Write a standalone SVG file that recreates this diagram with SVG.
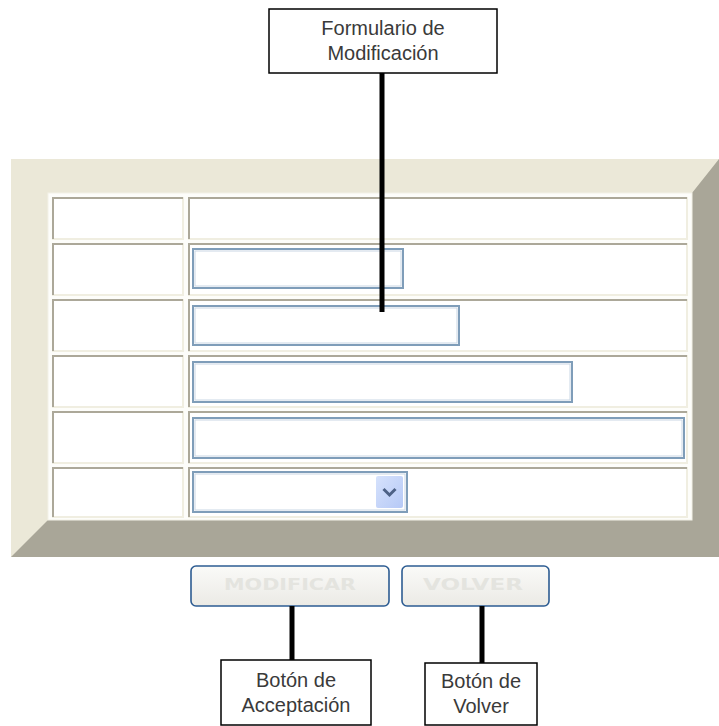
<svg xmlns="http://www.w3.org/2000/svg" width="719" height="726" viewBox="0 0 719 726">
<style>
.lbl{fill:#ffffff;stroke:#000000;stroke-width:1.5}
.txt{font-family:"Liberation Sans",Arial,sans-serif;font-size:20px;fill:#3a3a3a;text-anchor:middle}
.cell{fill:#ffffff;stroke:#f0eee1;stroke-width:2}
.cellsh{fill:none;stroke:#aca899;stroke-width:2}
.inp{fill:#ffffff;stroke:#7f9db9;stroke-width:2}
.inpin{fill:none;stroke:#c9d6e4;stroke-width:1}
.btn{stroke:#2d5c92;stroke-width:1.6;fill:url(#bg)}
.btxt{font-family:"DejaVu Sans",Verdana,sans-serif;font-weight:bold;font-size:16px;fill:#e4e4df;text-anchor:middle}
.conn{stroke:#000000;stroke-width:5;fill:none}
</style>
<defs>
<linearGradient id="bg" x1="0" y1="0" x2="0" y2="1">
<stop offset="0" stop-color="#fafaf8"/>
<stop offset="1" stop-color="#ebeae5"/>
</linearGradient>
<linearGradient id="dd" x1="0" y1="0" x2="1" y2="1">
<stop offset="0" stop-color="#d6e2fc"/>
<stop offset="1" stop-color="#b6c9f6"/>
</linearGradient>
</defs>
<rect width="719" height="726" fill="#ffffff"/>
<g id="frame">
<rect x="11" y="159" width="708" height="398" fill="#ebe8d8"/>
<polygon points="719,159 719,557 11,557 48,520 692,520 692,193" fill="#a9a698"/>
<rect x="48" y="193" width="644" height="327" fill="#fdfdfa" stroke="#f3f1e7" stroke-width="1"/>
</g>
<g id="table">
<rect class="cell" x="53" y="198" width="130" height="41"/>
<path class="cellsh" d="M53,239V198H183"/>
<rect class="cell" x="189" y="198" width="498" height="41"/>
<path class="cellsh" d="M189,239V198H687"/>
<rect class="cell" x="53" y="244" width="130" height="51"/>
<path class="cellsh" d="M53,295V244H183"/>
<rect class="cell" x="189" y="244" width="498" height="51"/>
<path class="cellsh" d="M189,295V244H687"/>
<rect class="cell" x="53" y="300" width="130" height="51"/>
<path class="cellsh" d="M53,351V300H183"/>
<rect class="cell" x="189" y="300" width="498" height="51"/>
<path class="cellsh" d="M189,351V300H687"/>
<rect class="cell" x="53" y="356" width="130" height="51"/>
<path class="cellsh" d="M53,407V356H183"/>
<rect class="cell" x="189" y="356" width="498" height="51"/>
<path class="cellsh" d="M189,407V356H687"/>
<rect class="cell" x="53" y="412" width="130" height="51"/>
<path class="cellsh" d="M53,463V412H183"/>
<rect class="cell" x="189" y="412" width="498" height="51"/>
<path class="cellsh" d="M189,463V412H687"/>
<rect class="cell" x="53" y="468" width="130" height="49"/>
<path class="cellsh" d="M53,517V468H183"/>
<rect class="cell" x="189" y="468" width="498" height="49"/>
<path class="cellsh" d="M189,517V468H687"/>
</g>
<g id="inputs">
<rect class="inp" x="193" y="249" width="210" height="39"/>
<rect class="inpin" x="195" y="251" width="206" height="35"/>
<rect class="inp" x="193" y="306" width="266" height="39"/>
<rect class="inpin" x="195" y="308" width="262" height="35"/>
<rect class="inp" x="193" y="362" width="379" height="40"/>
<rect class="inpin" x="195" y="364" width="375" height="36"/>
<rect class="inp" x="193" y="418" width="491" height="40"/>
<rect class="inpin" x="195" y="420" width="487" height="36"/>
</g>
<g id="select">
<rect class="inp" x="193" y="472" width="214" height="40"/>
<rect class="inpin" x="195" y="474" width="210" height="36"/>
<rect x="376" y="476" width="27" height="32" rx="2" fill="url(#dd)"/>
<path d="M383.5,489 L389.5,495 L395.5,489" fill="none" stroke="#4d6185" stroke-width="3"/>
</g>
<g id="btn-modificar">
<rect class="btn" x="191" y="566" width="198" height="40" rx="5"/>
<text class="btxt" x="290" y="590" textLength="132" lengthAdjust="spacingAndGlyphs">MODIFICAR</text>
</g>
<g id="btn-volver">
<rect class="btn" x="402" y="566" width="147" height="40" rx="5"/>
<text class="btxt" x="473" y="590" textLength="100" lengthAdjust="spacingAndGlyphs">VOLVER</text>
</g>
<g id="connectors">
<line class="conn" x1="382" y1="73" x2="382" y2="312"/>
<line class="conn" x1="292" y1="606" x2="292" y2="660"/>
<line class="conn" x1="482" y1="606" x2="482" y2="663"/>
</g>
<g id="lbl-formulario">
<rect class="lbl" x="269" y="9" width="228" height="64"/>
<text class="txt" x="383" y="35">Formulario de</text>
<text class="txt" x="383" y="60">Modificación</text>
</g>
<g id="lbl-aceptacion">
<rect class="lbl" x="221" y="660" width="150" height="65"/>
<text class="txt" x="296" y="687">Botón de</text>
<text class="txt" x="296" y="712">Acceptación</text>
</g>
<g id="lbl-volver">
<rect class="lbl" x="425" y="663" width="112" height="62"/>
<text class="txt" x="481" y="688">Botón de</text>
<text class="txt" x="481" y="713">Volver</text>
</g>
</svg>
